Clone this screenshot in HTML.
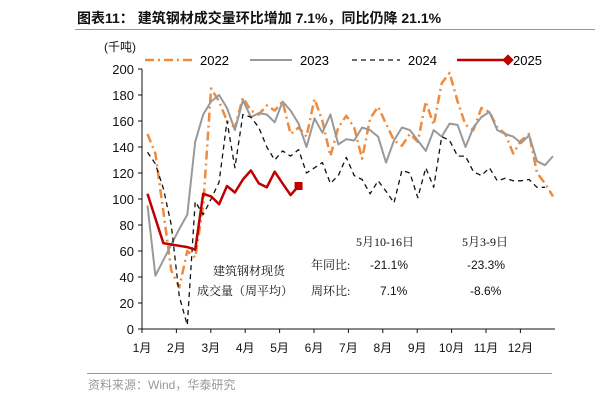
<!DOCTYPE html>
<html><head><meta charset="utf-8"><style>
html,body{margin:0;padding:0;background:#fff;}
svg{display:block;font-family:"Liberation Sans","Noto Sans CJK SC",sans-serif;}
</style></head><body>
<svg width="610" height="403" viewBox="0 0 610 403" xmlns="http://www.w3.org/2000/svg">
<text x="77" y="23" font-size="14" font-weight="bold" fill="#111">图表11：  建筑钢材成交量环比增加 7.1%，同比仍降 21.1%</text>
<line x1="75" y1="29.5" x2="595" y2="29.5" stroke="#7f9bbf" stroke-width="1"/>
<text x="104" y="51" font-size="12" fill="#111">(千吨)</text>
<g id="legend">
 <line x1="145" y1="60" x2="196" y2="60" stroke="#f08a3c" stroke-width="2.5" stroke-dasharray="9,4,2,4"/>
 <text x="200" y="65" font-size="13">2022</text>
 <line x1="250" y1="60" x2="292" y2="60" stroke="#999" stroke-width="2"/>
 <text x="300" y="65" font-size="13">2023</text>
 <line x1="352" y1="60" x2="400" y2="60" stroke="#111" stroke-width="1.3" stroke-dasharray="5,4"/>
 <text x="408" y="65" font-size="13">2024</text>
 <line x1="457" y1="60" x2="508" y2="60" stroke="#c00000" stroke-width="2.5"/>
 <rect x="504" y="56" width="8" height="8" fill="#c00000" transform="rotate(45 508 60)"/>
 <text x="513" y="65" font-size="13">2025</text>
</g>
<g id="axes"></g>
<g id="series"></g>
<g font-family="'Liberation Serif','Noto Serif CJK SC',serif" font-size="12" fill="#111">
 <text x="213" y="275">建筑钢材现货</text>
 <text x="197" y="295">成交量（周平均）</text>
 <text x="356" y="246">5月10-16日</text>
 <text x="462" y="246">5月3-9日</text>
 <text x="311" y="269">年同比:</text>
 <text x="370" y="269" font-family="'Liberation Sans',sans-serif">-21.1%</text>
 <text x="467" y="269" font-family="'Liberation Sans',sans-serif">-23.3%</text>
 <text x="311" y="295">周环比:</text>
 <text x="380" y="295" font-family="'Liberation Sans',sans-serif">7.1%</text>
 <text x="470" y="295" font-family="'Liberation Sans',sans-serif">-8.6%</text>
</g>
<line x1="87" y1="373.5" x2="552" y2="373.5" stroke="#7f9bbf" stroke-width="1"/>
<text x="88" y="389" font-size="12" fill="#999">资料来源：Wind，华泰研究</text>
</svg>
<script>
const yTicks=[0,20,40,60,80,100,120,140,160,180,200];
const monthLabels=["1月","2月","3月","4月","5月","6月","7月","8月","9月","10月","11月","12月"];
const s2022=[150,135,90,45,32,60,55,95,185,175,160,155,178,168,165,172,168,175,150,155,148,177,160,133,155,164,155,131,162,171,158,145,141,150,144,175,157,189,197,175,157,153,170,167,155,150,135,145,150,120,112,102];
const s2023=[95,41,53,65,77,88,144,165,175,180,170,153,176,163,166,165,159,175,168,158,140,162,151,165,142,146,145,155,153,148,128,145,155,153,145,137,153,148,158,157,140,155,163,167,153,150,148,143,149,129,126,133];
const s2024=[136,127,108,80,25,3,98,88,100,113,160,124,165,163,155,140,130,137,133,138,120,124,128,112,118,132,118,115,104,114,106,97,122,120,101,124,109,148,145,133,133,121,118,124,114,116,114,114,115,109,109];
const s2025=[104,85,66,65,64,63,61,104,102,96,110,105,115,122,112,109,121,112,103,110];
const NS='http://www.w3.org/2000/svg';
const x0=142,xEnd=555,yBase=329,yTop=69;
function yScale(v){return yBase-(v-0)/(200-0)*(yBase-yTop);}
function xWeek(i){return 147.5+i*7.95;}
function xMonth(m){return x0+m*34.4;}
function mk(tag,attrs,parent){const e=document.createElementNS(NS,tag);for(const k in attrs)e.setAttribute(k,attrs[k]);parent.appendChild(e);return e;}
const axes=document.getElementById('axes');
let a=mk('line',{x1:x0,y1:yTop,x2:x0,y2:yBase,stroke:'#111','stroke-width':1},axes);


a=mk('line',{x1:x0,y1:yBase,x2:xEnd,y2:yBase,stroke:'#111','stroke-width':1},axes);


yTicks.forEach(v=>{
 const y=yScale(v);
 const t=mk('line',{x1:x0-4,y1:y,x2:x0,y2:y,stroke:'#111'},axes);
 
 
 const l=mk('text',{x:x0-8,y:y+5,'font-size':13,'text-anchor':'end',fill:'#111'},axes);
 l.textContent=v;
 
 
});
monthLabels.forEach((m,i)=>{
 const x=xMonth(i);
 const t=mk('line',{x1:x,y1:yBase,x2:x,y2:yBase+4,stroke:'#111'},axes);
 
 
 const l=mk('text',{x:x,y:352,'font-size':12,'text-anchor':'middle',fill:'#111'},axes);
 l.textContent=m;
 
 
});
const series=document.getElementById('series');
function pts(arr){return arr.map((v,i)=>xWeek(i).toFixed(1)+','+yScale(v).toFixed(1)).join(' ');}
function line(arr,name,attrs){
 const p=mk('polyline',Object.assign({points:pts(arr),fill:'none','stroke-linejoin':'round'},attrs),series);
 
 
}
line(s2022,'line-2022',{stroke:'#f08a3c','stroke-width':2.5,'stroke-dasharray':'9,4,2,4'});
line(s2023,'line-2023',{stroke:'#999','stroke-width':2});
line(s2024,'line-2024',{stroke:'#111','stroke-width':1.3,'stroke-dasharray':'5,4'});
line(s2025,'line-2025',{stroke:'#c00000','stroke-width':2.5});
const li=s2025.length-1;
const m=mk('rect',{x:xWeek(li)-4,y:yScale(s2025[li])-4,width:8,height:8,fill:'#c00000'},series);


</script>
</body></html>
